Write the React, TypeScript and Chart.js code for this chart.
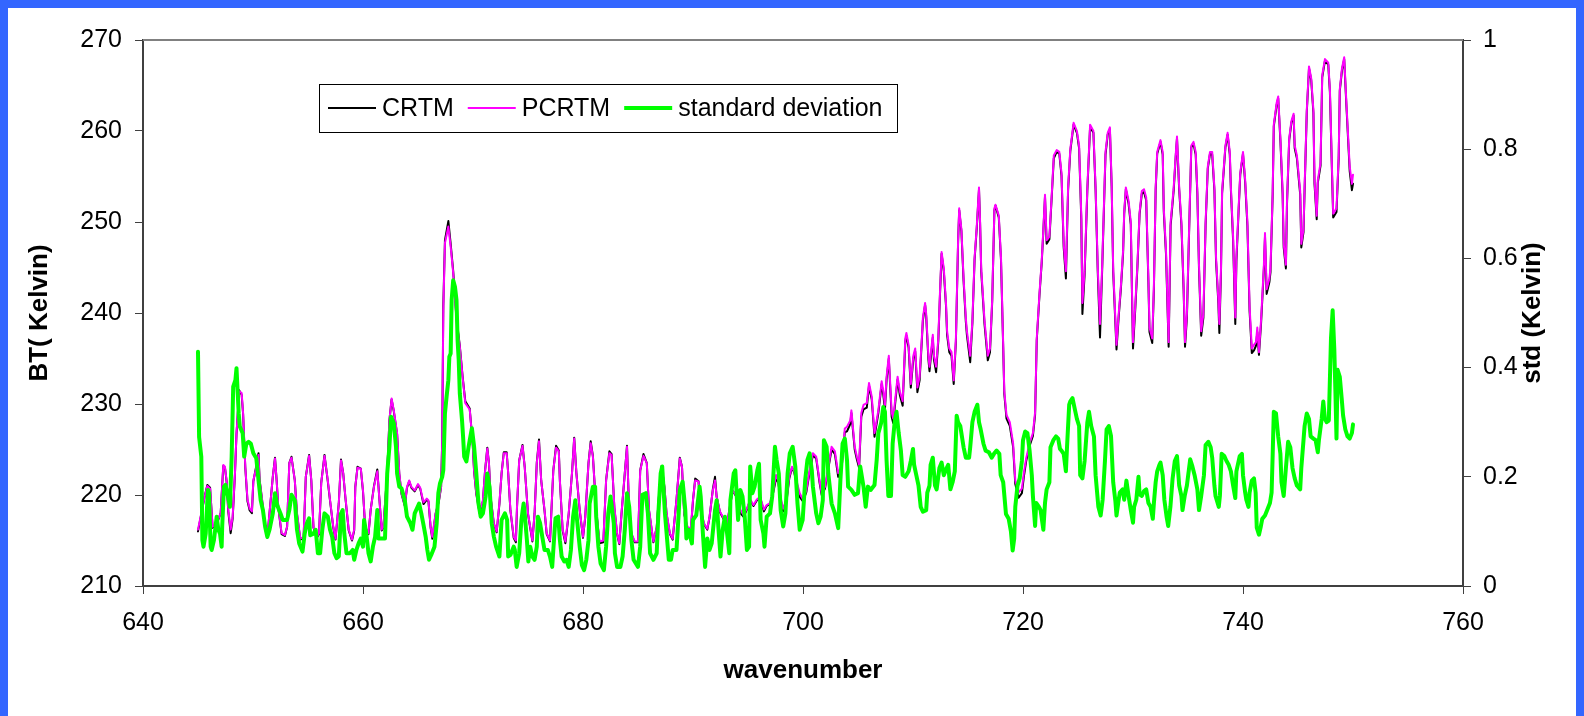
import React, { useEffect, useRef } from "react";
import { Chart, registerables } from "chart.js";

Chart.register(...registerables);

// ---------- data ----------
const btWavenumbers = [
  645.0, 645.6, 645.85, 646.1, 646.33, 646.7, 647.06, 647.3, 647.45, 647.6,
  647.75, 647.97, 648.15, 648.36, 648.5, 648.75, 648.97, 649.1, 649.3, 649.5,
  649.7, 649.9, 650.03, 650.24, 650.5, 650.6, 650.8, 651.1, 651.3, 651.5,
  651.8, 652.0, 652.15, 652.3, 652.6, 652.9, 653.1, 653.3, 653.5, 653.8,
  654.0, 654.3, 654.6, 654.8, 655.1, 655.3, 655.5, 655.8, 656.0, 656.2,
  656.5, 656.8, 657.0, 657.3, 657.5, 657.8, 658.0, 658.2, 658.4, 658.7,
  659.0, 659.2, 659.3, 659.5, 659.8, 660.0, 660.2, 660.5, 660.7, 661.0,
  661.3, 661.5, 661.7, 661.85, 662.2, 662.4, 662.6, 662.8, 663.1, 663.3,
  663.5, 663.8, 664.0, 664.2, 664.4, 664.7, 665.0, 665.2, 665.5, 665.8,
  665.95, 666.15, 666.3, 666.6, 666.9, 667.1, 667.2, 667.3, 667.45, 667.76,
  667.97, 668.2, 668.5, 668.8, 669.05, 669.3, 669.7, 669.97, 670.1, 670.3,
  670.6, 670.9, 671.1, 671.3, 671.45, 671.6, 671.9, 672.15, 672.4, 672.6,
  672.8, 673.06, 673.2, 673.4, 673.7, 673.9, 674.0, 674.2, 674.5, 674.7,
  675.0, 675.2, 675.4, 675.6, 675.8, 676.0, 676.2, 676.5, 676.7, 677.0,
  677.3, 677.55, 677.8, 677.9, 678.15, 678.4, 678.7, 679.0, 679.2, 679.4,
  679.7, 680.0, 680.2, 680.5, 680.7, 680.9, 681.2, 681.5, 681.85, 682.1,
  682.4, 682.6, 682.85, 683.1, 683.3, 683.5, 683.8, 684.0, 684.2, 684.4,
  684.7, 685.0, 685.2, 685.5, 685.8, 686.0, 686.4, 686.7, 686.9, 687.15,
  687.4, 687.6, 687.9, 688.15, 688.5, 688.8, 689.0, 689.2, 689.5, 689.8,
  690.0, 690.2, 690.5, 690.7, 691.0, 691.3, 691.5, 691.8, 692.0, 692.15,
  692.45, 692.8, 693.1, 693.3, 693.6, 693.9, 694.1, 694.3, 694.6, 694.9,
  695.2, 695.5, 695.8, 696.1, 696.45, 696.7, 697.0, 697.3, 697.55, 697.75,
  698.0, 698.2, 698.5, 698.75, 699.0, 699.2, 699.4, 699.7, 700.0, 700.3,
  700.6, 700.9, 701.2, 701.5, 701.7, 702.0, 702.3, 702.6, 702.9, 703.2,
  703.5, 703.8, 704.0, 704.3, 704.4, 704.7, 704.9, 705.1, 705.3, 705.5,
  705.8, 706.0, 706.25, 706.5, 706.85, 707.15, 707.3, 707.45, 707.6, 707.8,
  708.06, 708.2, 708.4, 708.6, 708.8, 709.06, 709.3, 709.4, 709.6, 709.8,
  710.03, 710.2, 710.4, 710.6, 710.8, 710.9, 711.1, 711.2, 711.4, 711.5,
  711.8, 711.9, 712.1, 712.3, 712.45, 712.6, 712.8, 713.0, 713.1, 713.3,
  713.5, 713.7, 713.9, 714.1, 714.2, 714.4, 714.6, 714.8, 714.9, 715.2,
  715.4, 715.6, 715.8, 716.0, 716.1, 716.2, 716.5, 716.8, 717.0, 717.2,
  717.4, 717.5, 717.8, 718.0, 718.2, 718.3, 718.5, 718.8, 719.1, 719.3,
  719.6, 719.9, 720.1, 720.3, 720.6, 720.9, 721.1, 721.25, 721.5, 721.7,
  721.85, 722.0, 722.15, 722.4, 722.6, 722.8, 723.06, 723.3, 723.5, 723.7,
  723.9, 724.1, 724.3, 724.6, 724.9, 725.1, 725.3, 725.4, 725.6, 725.85,
  726.1, 726.4, 726.6, 726.8, 727.0, 727.2, 727.5, 727.7, 727.9, 728.06,
  728.2, 728.4, 728.5, 728.7, 728.9, 729.1, 729.2, 729.35, 729.6, 729.8,
  729.9, 730.0, 730.2, 730.4, 730.6, 730.8, 731.0, 731.2, 731.4, 731.5,
  731.75, 731.9, 732.06, 732.2, 732.5, 732.7, 732.8, 733.0, 733.24, 733.42,
  733.7, 733.9, 734.0, 734.2, 734.4, 734.6, 734.73, 734.9, 735.1, 735.3,
  735.5, 735.7, 735.85, 736.0, 736.2, 736.4, 736.6, 736.8, 737.0, 737.2,
  737.4, 737.55, 737.76, 737.85, 738.0, 738.1, 738.4, 738.6, 738.8, 738.9,
  739.1, 739.3, 739.4, 739.6, 739.75, 740.0, 740.2, 740.4, 740.6, 740.8,
  741.0, 741.18, 741.3, 741.45, 741.64, 741.9, 742.0, 742.15, 742.4, 742.5,
  742.7, 742.8, 743.06, 743.2, 743.4, 743.6, 743.7, 743.9, 744.0, 744.2,
  744.4, 744.6, 744.7, 744.9, 745.2, 745.3, 745.5, 745.6, 745.8, 746.0,
  746.2, 746.4, 746.5, 746.7, 746.8, 747.05, 747.2, 747.45, 747.75, 747.9,
  748.1, 748.2, 748.5, 748.7, 748.8, 749.0, 749.2, 749.4, 749.6, 749.7,
  749.9, 750.0,
];

const pcrtmBT = [
  216.2, 219.8, 221.0, 220.7, 216.5, 216.9, 218.0, 223.3, 223.1, 221.6,
  218.4, 216.2, 217.6, 222.4, 226.8, 231.4, 231.2, 229.0, 223.1, 219.5,
  218.5, 218.2, 221.6, 222.7, 224.4, 221.6, 219.8, 216.5, 215.4, 218.0,
  222.0, 224.0, 221.6, 218.7, 215.8, 215.6, 216.5, 223.5, 224.1, 221.6,
  218.0, 215.2, 215.4, 222.0, 224.3, 221.6, 216.5, 215.4, 215.8, 221.3,
  224.3, 221.6, 219.5, 216.5, 215.2, 219.1, 223.8, 222.4, 219.8, 216.2,
  215.1, 216.2, 220.9, 223.0, 222.9, 220.5, 216.5, 215.8, 218.4, 220.9,
  222.6, 219.4, 216.2, 216.5, 222.4, 228.2, 230.6, 229.3, 226.8, 222.4,
  220.2, 218.9, 220.9, 221.6, 220.9, 220.5, 221.2, 220.8, 219.2, 219.6,
  219.4, 216.5, 215.4, 218.0, 219.4, 220.9, 225.7, 240.3, 247.7, 249.5,
  247.3, 244.4, 239.2, 236.3, 233.0, 230.1, 229.4, 225.7, 222.7, 220.2,
  218.2, 219.4, 222.7, 225.1, 223.5, 219.8, 216.9, 216.0, 219.1, 222.4,
  224.6, 224.6, 222.4, 218.4, 215.4, 215.0, 218.7, 223.8, 225.4, 223.1,
  218.0, 216.5, 215.0, 218.0, 223.5, 225.9, 221.6, 218.4, 215.8, 215.0,
  222.7, 225.2, 224.8, 221.6, 216.2, 214.9, 218.0, 222.4, 226.2, 222.4,
  218.4, 215.4, 217.6, 223.5, 225.7, 224.2, 218.4, 214.9, 215.0, 221.6,
  224.6, 224.4, 218.7, 215.8, 214.7, 218.0, 222.4, 225.3, 218.0, 215.8,
  214.9, 214.9, 222.7, 224.3, 223.5, 218.4, 214.9, 216.5, 219.8, 223.1,
  220.9, 218.0, 215.8, 215.2, 219.5, 224.0, 223.1, 218.0, 216.5, 216.3,
  219.5, 221.6, 221.5, 218.4, 216.9, 216.3, 217.6, 220.5, 221.6, 219.8,
  218.2, 217.4, 216.9, 218.4, 220.5, 220.0, 218.9, 218.4, 217.8, 218.5,
  219.5, 218.9, 219.5, 219.8, 218.4, 218.9, 219.1, 220.5, 222.2, 221.6,
  219.5, 218.5, 219.5, 222.0, 223.1, 222.6, 221.6, 220.2, 219.5, 220.5,
  222.7, 224.6, 224.2, 221.6, 220.2, 220.9, 223.1, 225.3, 224.8, 222.4,
  223.1, 227.3, 227.5, 228.2, 229.3, 225.3, 224.2, 223.3, 229.0, 229.9,
  230.1, 232.3, 230.8, 226.8, 229.3, 232.5, 231.4, 229.9, 233.0, 235.3,
  229.1, 228.4, 230.7, 233.0, 231.4, 230.3, 237.2, 237.8, 236.5, 232.2,
  235.3, 236.1, 231.8, 233.0, 237.2, 239.5, 241.1, 239.9, 235.3, 234.1,
  237.6, 235.3, 234.1, 237.2, 242.2, 246.7, 244.9, 241.1, 238.0, 236.1,
  235.7, 232.6, 237.2, 248.0, 251.5, 249.2, 243.8, 239.5, 238.0, 235.3,
  239.2, 246.1, 249.6, 253.8, 250.0, 244.9, 239.2, 235.3, 236.1, 241.5,
  251.5, 251.9, 250.7, 246.1, 236.5, 231.4, 228.8, 228.0, 225.7, 221.6,
  220.3, 220.7, 222.6, 224.1, 225.7, 226.8, 229.1, 237.2, 242.2, 245.7,
  249.2, 253.0, 248.0, 248.4, 252.7, 257.3, 257.9, 257.7, 255.4, 247.6,
  244.6, 253.8, 258.0, 260.9, 260.0, 258.4, 250.7, 241.1, 244.6, 253.8,
  260.7, 260.0, 253.8, 244.9, 238.8, 245.3, 257.7, 259.8, 260.4, 254.2,
  244.9, 239.2, 236.5, 239.9, 243.0, 246.9, 251.1, 253.8, 252.3, 250.0,
  243.0, 236.8, 240.7, 245.3, 251.1, 253.4, 253.6, 252.7, 243.8, 238.4,
  237.2, 243.0, 253.8, 257.7, 259.0, 257.7, 251.5, 246.9, 236.8, 250.0,
  253.8, 257.7, 259.4, 253.8, 250.0, 243.0, 236.8, 239.9, 249.2, 258.4,
  258.8, 257.7, 253.4, 245.3, 238.0, 239.9, 250.0, 256.1, 257.7, 257.7,
  253.8, 246.1, 241.5, 238.8, 244.9, 253.4, 258.4, 259.8, 257.7, 253.8,
  248.4, 239.5, 246.1, 251.5, 255.4, 257.7, 254.6, 250.0, 240.7, 236.1,
  236.5, 236.8, 238.4, 235.7, 239.2, 245.3, 248.8, 242.6, 243.8, 244.9,
  253.4, 260.7, 263.1, 263.8, 259.2, 253.4, 247.6, 245.3, 252.3, 259.2,
  261.1, 261.9, 258.4, 257.3, 253.4, 247.6, 249.2, 253.8, 262.3, 267.1,
  265.8, 262.3, 254.6, 250.7, 254.6, 256.5, 266.1, 267.9, 267.5, 264.6,
  255.4, 250.9, 251.5, 257.3, 264.6, 266.9, 268.1, 263.1, 258.4, 256.1,
  254.2, 255.2,
];

const crtmBT = [
  216.0, 219.8, 221.1, 220.8, 216.4, 216.8, 218.0, 223.2, 223.0, 221.5,
  218.2, 215.8, 217.4, 222.3, 226.7, 231.5, 231.0, 228.9, 223.0, 219.3,
  218.3, 218.0, 221.5, 222.8, 224.6, 221.7, 219.7, 216.4, 215.3, 218.0,
  222.0, 224.1, 221.6, 218.6, 215.7, 215.5, 216.5, 223.5, 224.2, 221.6,
  217.9, 215.1, 215.3, 222.0, 224.4, 221.6, 216.4, 215.3, 215.7, 221.3,
  224.4, 221.5, 219.4, 216.4, 215.1, 219.1, 223.9, 222.4, 219.7, 216.1,
  215.0, 216.1, 220.9, 223.1, 222.9, 220.4, 216.4, 215.7, 218.4, 221.0,
  222.8, 219.4, 216.1, 216.4, 222.4, 228.2, 230.5, 229.2, 226.7, 222.3,
  220.1, 218.8, 220.8, 221.5, 220.8, 220.4, 221.1, 220.7, 219.0, 219.5,
  219.3, 216.4, 215.2, 217.9, 219.3, 220.9, 225.9, 240.8, 248.0, 250.1,
  247.6, 244.6, 239.4, 236.4, 233.1, 230.3, 229.5, 225.7, 222.6, 220.1,
  218.0, 219.3, 222.7, 225.2, 223.5, 219.7, 216.8, 215.9, 219.0, 222.4,
  224.7, 224.7, 222.4, 218.3, 215.3, 214.8, 218.6, 223.8, 225.5, 223.1,
  217.9, 216.4, 214.9, 218.0, 223.6, 226.1, 221.6, 218.3, 215.7, 214.9,
  222.7, 225.4, 224.9, 221.5, 216.1, 214.7, 217.9, 222.4, 226.3, 222.4,
  218.3, 215.3, 217.5, 223.5, 225.9, 224.3, 218.3, 214.7, 214.8, 221.6,
  224.8, 224.5, 218.6, 215.7, 214.6, 217.9, 222.4, 225.4, 217.9, 215.7,
  214.8, 214.8, 222.7, 224.5, 223.5, 218.3, 214.8, 216.4, 219.8, 223.2,
  220.9, 217.9, 215.7, 215.1, 219.5, 224.1, 223.1, 217.9, 216.3, 216.1,
  219.4, 221.8, 221.5, 218.3, 216.8, 216.2, 217.5, 220.6, 222.0, 219.8,
  218.1, 217.3, 216.8, 218.3, 220.5, 219.9, 218.7, 218.0, 217.6, 218.4,
  219.4, 218.8, 219.4, 219.7, 218.2, 218.8, 219.0, 220.3, 221.8, 221.4,
  219.3, 218.2, 219.3, 221.8, 223.0, 222.5, 221.4, 219.8, 219.3, 220.3,
  222.5, 224.4, 224.0, 221.4, 220.0, 220.7, 222.9, 225.0, 224.5, 222.0,
  222.8, 226.9, 227.0, 227.8, 229.0, 225.0, 223.9, 223.0, 228.6, 229.4,
  229.6, 232.0, 230.5, 226.4, 229.0, 232.2, 231.0, 229.4, 232.7, 235.0,
  228.6, 227.9, 230.3, 232.7, 231.0, 229.8, 236.9, 237.5, 236.2, 231.8,
  235.0, 235.8, 231.3, 232.6, 236.9, 239.2, 240.9, 239.6, 234.9, 233.6,
  237.3, 234.9, 233.5, 236.9, 241.9, 246.5, 244.6, 240.8, 237.6, 235.7,
  235.3, 232.2, 236.9, 247.8, 251.3, 249.0, 243.5, 239.1, 237.6, 234.6,
  238.9, 245.9, 249.4, 253.6, 249.8, 244.6, 238.8, 234.8, 235.7, 241.2,
  251.3, 251.8, 250.5, 245.8, 236.2, 231.1, 228.4, 227.6, 225.3, 221.2,
  219.7, 220.2, 222.2, 223.8, 225.4, 226.5, 228.8, 237.0, 242.0, 245.5,
  249.0, 252.8, 247.6, 248.1, 252.5, 257.0, 257.7, 257.5, 255.1, 247.2,
  243.8, 253.5, 257.8, 260.7, 259.8, 258.1, 250.3, 239.9, 244.2, 253.5,
  260.5, 259.8, 253.5, 244.4, 237.3, 244.9, 257.4, 259.6, 260.2, 253.9,
  244.5, 238.8, 236.0, 239.6, 242.7, 246.6, 250.9, 253.6, 252.0, 249.7,
  242.6, 236.1, 240.3, 245.0, 250.9, 253.1, 253.3, 252.4, 243.4, 237.9,
  236.7, 242.6, 253.5, 257.5, 258.8, 257.4, 251.1, 246.5, 236.3, 249.6,
  253.5, 257.5, 259.2, 253.5, 249.7, 242.6, 236.3, 239.5, 248.9, 258.2,
  258.6, 257.4, 253.1, 244.9, 237.5, 239.5, 249.7, 255.9, 257.5, 257.4,
  253.5, 245.7, 241.1, 237.8, 244.5, 253.1, 258.2, 259.6, 257.4, 253.5,
  248.0, 238.8, 245.7, 251.2, 255.2, 257.5, 254.3, 249.6, 240.2, 235.6,
  235.9, 236.4, 237.9, 235.4, 238.8, 244.9, 248.4, 242.1, 243.4, 244.5,
  253.1, 260.5, 262.9, 263.6, 258.9, 253.1, 247.2, 244.9, 252.0, 259.0,
  260.9, 261.7, 258.1, 257.0, 253.0, 247.2, 248.9, 253.5, 262.1, 266.9,
  265.6, 262.0, 254.2, 250.3, 254.3, 256.2, 265.9, 267.7, 267.3, 264.3,
  255.0, 250.5, 251.1, 257.0, 264.4, 266.7, 267.9, 262.8, 258.0, 255.6,
  253.5, 254.2,
];

const stdWavenumbers = [
  645.0, 645.1, 645.3, 645.4, 645.5, 645.7, 645.9, 646.0, 646.15, 646.24,
  646.45, 646.7, 646.85, 647.0, 647.15, 647.2, 647.36, 647.5, 647.8, 647.9,
  648.06, 648.2, 648.4, 648.5, 648.7, 648.8, 649.06, 649.2, 649.4, 649.6,
  649.8, 650.03, 650.3, 650.5, 650.7, 650.9, 651.1, 651.3, 651.5, 651.8,
  652.0, 652.2, 652.5, 652.7, 653.1, 653.3, 653.5, 653.8, 654.0, 654.2,
  654.5, 654.7, 654.9, 655.1, 655.2, 655.5, 655.7, 655.9, 656.1, 656.3,
  656.5, 656.8, 657.0, 657.2, 657.4, 657.6, 657.8, 658.0, 658.15, 658.3,
  658.5, 658.8, 659.06, 659.2, 659.4, 659.6, 659.8, 660.0, 660.1, 660.3,
  660.5, 660.7, 660.9, 661.1, 661.3, 661.4, 661.7, 662.0, 662.2, 662.4,
  662.55, 662.8, 663.0, 663.1, 663.3, 663.5, 663.8, 664.0, 664.3, 664.5,
  664.7, 665.1, 665.3, 665.5, 665.7, 665.85, 666.0, 666.2, 666.5, 666.7,
  666.85, 667.0, 667.2, 667.3, 667.45, 667.6, 667.76, 667.85, 667.97, 668.06,
  668.2, 668.36, 668.5, 668.6, 668.7, 668.8, 669.0, 669.1, 669.2, 669.4,
  669.6, 669.7, 669.9, 670.1, 670.3, 670.5, 670.7, 670.9, 671.15, 671.3,
  671.5, 671.7, 671.9, 672.1, 672.4, 672.6, 672.9, 673.1, 673.2, 673.4,
  673.7, 673.8, 673.97, 674.2, 674.4, 674.6, 674.7, 674.9, 675.03, 675.2,
  675.4, 675.6, 675.8, 675.9, 676.1, 676.3, 676.5, 676.8, 677.0, 677.2,
  677.4, 677.5, 677.75, 677.9, 678.06, 678.3, 678.5, 678.7, 678.9, 679.1,
  679.3, 679.4, 679.7, 679.9, 680.1, 680.3, 680.5, 680.6, 680.9, 681.1,
  681.2, 681.4, 681.6, 681.9, 682.1, 682.3, 682.5, 682.8, 682.9, 683.1,
  683.4, 683.6, 683.8, 684.0, 684.2, 684.4, 684.6, 685.0, 685.2, 685.4,
  685.7, 685.9, 686.1, 686.4, 686.7, 686.85, 687.06, 687.2, 687.45, 687.8,
  688.0, 688.15, 688.5, 688.7, 688.8, 689.06, 689.3, 689.4, 689.6, 689.9,
  690.0, 690.3, 690.6, 690.7, 690.9, 691.1, 691.3, 691.5, 691.7, 692.0,
  692.15, 692.3, 692.5, 692.7, 692.9, 693.1, 693.3, 693.4, 693.7, 693.85,
  694.0, 694.1, 694.3, 694.5, 694.7, 694.9, 695.1, 695.2, 695.4, 695.6,
  695.85, 696.0, 696.15, 696.4, 696.5, 696.7, 697.0, 697.2, 697.45, 697.6,
  697.8, 697.97, 698.2, 698.4, 698.6, 698.8, 699.06, 699.3, 699.5, 699.7,
  699.97, 700.2, 700.4, 700.6, 700.8, 700.9, 701.2, 701.4, 701.6, 701.8,
  701.9, 702.15, 702.3, 702.6, 702.9, 703.2, 703.4, 703.6, 703.8, 704.0,
  704.1, 704.4, 704.7, 705.0, 705.2, 705.5, 705.7, 705.9, 706.15, 706.5,
  706.7, 706.85, 707.1, 707.3, 707.45, 707.6, 707.76, 708.0, 708.15, 708.36,
  708.5, 708.7, 708.9, 709.06, 709.3, 709.6, 709.8, 710.0, 710.1, 710.3,
  710.5, 710.7, 710.9, 711.2, 711.3, 711.5, 711.6, 711.8, 712.0, 712.15,
  712.4, 712.6, 712.8, 713.06, 713.2, 713.4, 713.6, 713.8, 713.97, 714.1,
  714.3, 714.4, 714.6, 714.8, 715.1, 715.2, 715.4, 715.6, 715.85, 716.0,
  716.15, 716.4, 716.6, 716.9, 717.15, 717.36, 717.6, 717.85, 717.97, 718.2,
  718.45, 718.7, 718.9, 719.06, 719.2, 719.3, 719.5, 719.7, 719.9, 720.0,
  720.2, 720.4, 720.6, 720.8, 720.9, 721.1, 721.2, 721.45, 721.6, 721.85,
  722.0, 722.15, 722.4, 722.5, 722.76, 723.0, 723.2, 723.36, 723.5, 723.7,
  723.9, 724.0, 724.2, 724.3, 724.5, 724.7, 724.9, 725.1, 725.2, 725.4,
  725.6, 725.85, 726.0, 726.2, 726.45, 726.6, 726.85, 727.06, 727.24, 727.45,
  727.6, 727.8, 728.0, 728.2, 728.4, 728.5, 728.7, 728.8, 729.06, 729.2,
  729.4, 729.6, 729.8, 730.0, 730.1, 730.3, 730.5, 730.6, 730.8, 731.0,
  731.2, 731.4, 731.6, 731.8, 731.9, 732.06, 732.2, 732.4, 732.5, 732.7,
  732.85, 733.06, 733.2, 733.4, 733.6, 733.8, 734.0, 734.2, 734.4, 734.5,
  734.7, 734.9, 735.1, 735.2, 735.4, 735.6, 735.85, 736.0, 736.2, 736.45,
  736.6, 736.85, 737.06, 737.2, 737.4, 737.5, 737.8, 737.9, 738.06, 738.3,
  738.5, 738.7, 738.9, 739.1, 739.3, 739.4, 739.7, 739.9, 740.0, 740.2,
  740.3, 740.5, 740.6, 740.8, 741.0, 741.15, 741.25, 741.45, 741.6, 741.75,
  742.0, 742.2, 742.45, 742.6, 742.7, 742.8, 743.0, 743.2, 743.4, 743.5,
  743.7, 743.9, 744.1, 744.3, 744.5, 744.7, 744.9, 745.2, 745.3, 745.5,
  745.6, 745.8, 746.0, 746.15, 746.4, 746.6, 746.8, 746.9, 747.15, 747.3,
  747.45, 747.6, 747.8, 748.0, 748.15, 748.3, 748.4, 748.5, 748.6, 748.8,
  748.97, 749.1, 749.3, 749.5, 749.7, 749.9, 750.0,
];

const stdValues = [
  0.429, 0.273, 0.237, 0.084, 0.072, 0.096, 0.176, 0.17, 0.072, 0.066,
  0.084, 0.127, 0.103, 0.096, 0.072, 0.109, 0.182, 0.185, 0.157, 0.145,
  0.237, 0.365, 0.377, 0.399, 0.316, 0.292, 0.28, 0.237, 0.261, 0.264,
  0.261, 0.243, 0.234, 0.194, 0.157, 0.139, 0.109, 0.09, 0.103, 0.133,
  0.17, 0.148, 0.133, 0.121, 0.121, 0.139, 0.167, 0.157, 0.103, 0.078,
  0.063, 0.096, 0.115, 0.124, 0.093, 0.096, 0.103, 0.06, 0.06, 0.103,
  0.133, 0.127, 0.103, 0.09, 0.06, 0.051, 0.054, 0.133, 0.139, 0.096,
  0.06, 0.06, 0.066, 0.048, 0.066, 0.078, 0.087, 0.072, 0.121, 0.096,
  0.06, 0.045, 0.072, 0.09, 0.139, 0.087, 0.087, 0.087, 0.206, 0.255,
  0.31, 0.298, 0.255, 0.206, 0.182, 0.179, 0.157, 0.127, 0.115, 0.103,
  0.133, 0.151, 0.133, 0.112, 0.09, 0.066, 0.048, 0.057, 0.072, 0.115,
  0.17, 0.188, 0.2, 0.212, 0.316, 0.347, 0.377, 0.42, 0.426, 0.524,
  0.56, 0.548, 0.524, 0.45, 0.414, 0.353, 0.304, 0.273, 0.237, 0.228,
  0.255, 0.267, 0.289, 0.255, 0.206, 0.151, 0.127, 0.133, 0.164, 0.206,
  0.182, 0.115, 0.09, 0.072, 0.054, 0.121, 0.133, 0.121, 0.054, 0.057,
  0.072, 0.066, 0.035, 0.06, 0.121, 0.151, 0.133, 0.084, 0.045, 0.072,
  0.054, 0.048, 0.072, 0.127, 0.115, 0.09, 0.066, 0.066, 0.054, 0.035,
  0.096, 0.124, 0.127, 0.084, 0.054, 0.045, 0.048, 0.035, 0.066, 0.127,
  0.157, 0.133, 0.072, 0.038, 0.029, 0.048, 0.084, 0.151, 0.182, 0.182,
  0.127, 0.072, 0.041, 0.029, 0.072, 0.133, 0.164, 0.115, 0.06, 0.035,
  0.035, 0.054, 0.103, 0.17, 0.145, 0.084, 0.048, 0.035, 0.072, 0.167,
  0.17, 0.133, 0.06, 0.048, 0.06, 0.133, 0.206, 0.219, 0.133, 0.048,
  0.048, 0.066, 0.066, 0.133, 0.176, 0.191, 0.139, 0.087, 0.103, 0.078,
  0.121, 0.13, 0.182, 0.164, 0.096, 0.035, 0.087, 0.066, 0.078, 0.139,
  0.157, 0.109, 0.054, 0.103, 0.127, 0.096, 0.06, 0.157, 0.206, 0.212,
  0.157, 0.121, 0.176, 0.164, 0.127, 0.066, 0.072, 0.219, 0.17, 0.182,
  0.212, 0.224, 0.121, 0.096, 0.072, 0.127, 0.133, 0.164, 0.255, 0.231,
  0.206, 0.139, 0.109, 0.133, 0.206, 0.243, 0.255, 0.219, 0.151, 0.103,
  0.121, 0.194, 0.231, 0.243, 0.212, 0.182, 0.133, 0.115, 0.127, 0.157,
  0.267, 0.255, 0.206, 0.151, 0.133, 0.106, 0.194, 0.261, 0.27, 0.231,
  0.182, 0.176, 0.167, 0.17, 0.219, 0.182, 0.145, 0.182, 0.176, 0.185,
  0.231, 0.28, 0.298, 0.328, 0.319, 0.229, 0.165, 0.165, 0.261, 0.306,
  0.319, 0.28, 0.248, 0.203, 0.2, 0.21, 0.229, 0.251, 0.222, 0.203,
  0.184, 0.145, 0.136, 0.139, 0.171, 0.184, 0.222, 0.235, 0.184, 0.177,
  0.216, 0.226, 0.203, 0.216, 0.222, 0.177, 0.19, 0.21, 0.312, 0.3,
  0.293, 0.28, 0.254, 0.235, 0.235, 0.254, 0.3, 0.319, 0.332, 0.3,
  0.287, 0.261, 0.248, 0.245, 0.235, 0.242, 0.248, 0.242, 0.203, 0.19,
  0.132, 0.123, 0.1, 0.065, 0.087, 0.145, 0.184, 0.197, 0.229, 0.267,
  0.283, 0.28, 0.248, 0.203, 0.165, 0.11, 0.152, 0.145, 0.139, 0.103,
  0.152, 0.177, 0.19, 0.254, 0.267, 0.274, 0.27, 0.251, 0.248, 0.242,
  0.21, 0.254, 0.332, 0.338, 0.344, 0.325, 0.306, 0.293, 0.203, 0.197,
  0.229, 0.3, 0.319, 0.293, 0.274, 0.203, 0.145, 0.129, 0.158, 0.229,
  0.287, 0.293, 0.275, 0.19, 0.155, 0.129, 0.158, 0.171, 0.177, 0.158,
  0.193, 0.165, 0.139, 0.116, 0.145, 0.158, 0.2, 0.168, 0.165, 0.174,
  0.177, 0.152, 0.145, 0.123, 0.152, 0.19, 0.21, 0.222, 0.226, 0.203,
  0.158, 0.126, 0.11, 0.145, 0.197, 0.229, 0.238, 0.184, 0.165, 0.139,
  0.165, 0.184, 0.216, 0.232, 0.219, 0.203, 0.177, 0.139, 0.165, 0.203,
  0.258, 0.264, 0.254, 0.235, 0.184, 0.165, 0.145, 0.165, 0.242, 0.238,
  0.229, 0.222, 0.21, 0.184, 0.161, 0.21, 0.238, 0.242, 0.203, 0.171,
  0.158, 0.145, 0.171, 0.193, 0.197, 0.171, 0.107, 0.094, 0.107, 0.123,
  0.129, 0.139, 0.152, 0.171, 0.242, 0.319, 0.316, 0.274, 0.242, 0.19,
  0.165, 0.216, 0.264, 0.254, 0.216, 0.197, 0.184, 0.177, 0.216, 0.267,
  0.293, 0.316, 0.306, 0.274, 0.27, 0.267, 0.245, 0.267, 0.306, 0.338,
  0.306, 0.3, 0.303, 0.454, 0.505, 0.434, 0.357, 0.27, 0.396, 0.383,
  0.344, 0.312, 0.287, 0.274, 0.27, 0.28, 0.296,
];

const seriesLabels = ["CRTM", "PCRTM", "standard deviation"];
const seriesColors = ["#000000", "#ff00ff", "#00ff00"];
const seriesWidths = [2, 2, 4];

const FONT = '"Liberation Sans", Arial, Helvetica, sans-serif';

function toPoints(xs: number[], ys: number[]) {
  const n = Math.min(xs.length, ys.length);
  const out: { x: number; y: number }[] = [];
  for (let i = 0; i < n; i++) out.push({ x: xs[i], y: ys[i] });
  return out;
}

export default function App() {
  const canvasRef = useRef<HTMLCanvasElement | null>(null);

  useEffect(() => {
    document.body.style.background = "#3366ff";
    document.body.style.margin = "8px";
    document.body.style.overflow = "hidden";
    document.documentElement.style.overflow = "hidden";
    const canvas = canvasRef.current;
    if (!canvas) return;

    const overlayPlugin = {
      id: "overlay",
      afterDraw(chart: any) {
        const ctx = chart.ctx as CanvasRenderingContext2D;
        const area = chart.chartArea;
        ctx.save();
        // top frame line of plot area
        ctx.strokeStyle = "#808080";
        ctx.lineWidth = 2;
        ctx.beginPath();
        ctx.moveTo(area.left, area.top);
        ctx.lineTo(area.right, area.top);
        ctx.stroke();

        // legend box
        const bx = 311, by = 76, bw = 578, bh = 48;
        ctx.fillStyle = "#ffffff";
        ctx.fillRect(bx, by, bw, bh);
        ctx.strokeStyle = "#000000";
        ctx.lineWidth = 1;
        ctx.strokeRect(bx + 0.5, by + 0.5, bw, bh);
        ctx.font = `25px ${FONT}`;
        ctx.textBaseline = "middle";
        ctx.textAlign = "left";
        const cy = by + bh / 2;
        let x = 320;
        for (let i = 0; i < seriesLabels.length; i++) {
          ctx.strokeStyle = seriesColors[i];
          ctx.lineWidth = seriesWidths[i];
          ctx.beginPath();
          ctx.moveTo(x, cy);
          ctx.lineTo(x + 48, cy);
          ctx.stroke();
          ctx.fillStyle = "#000000";
          ctx.fillText(seriesLabels[i], x + 54, cy + 1);
          x += 54 + ctx.measureText(seriesLabels[i]).width + 14;
        }

        // right axis title (reads bottom to top)
        ctx.translate(1525, (area.top + area.bottom) / 2);
        ctx.rotate(-Math.PI / 2);
        ctx.font = `bold 26px ${FONT}`;
        ctx.textAlign = "center";
        ctx.textBaseline = "middle";
        ctx.fillStyle = "#000000";
        ctx.fillText("std (Kelvin)", 0, 0);
        ctx.restore();
      },
    };

    const axisColor = "#404040";
    const tickFont = { family: FONT, size: 25 };

    const chart = new Chart(canvas, {
      type: "line",
      data: {
        datasets: [
          {
            label: seriesLabels[2],
            data: toPoints(stdWavenumbers, stdValues),
            yAxisID: "y1",
            borderColor: seriesColors[2],
            backgroundColor: seriesColors[2],
            borderWidth: seriesWidths[2],
            pointRadius: 0,
            order: 0,
          },
          {
            label: seriesLabels[1],
            data: toPoints(btWavenumbers, pcrtmBT),
            yAxisID: "y",
            borderColor: seriesColors[1],
            backgroundColor: seriesColors[1],
            borderWidth: seriesWidths[1],
            pointRadius: 0,
            order: 1,
          },
          {
            label: seriesLabels[0],
            data: toPoints(btWavenumbers, crtmBT),
            yAxisID: "y",
            borderColor: seriesColors[0],
            backgroundColor: seriesColors[0],
            borderWidth: seriesWidths[0],
            pointRadius: 0,
            order: 2,
          },
        ],
      },
      options: {
        responsive: false,
        animation: false,
        events: [],
        layout: { padding: { top: 32, left: 0, right: 0, bottom: 0 } },
        elements: { line: { tension: 0, borderJoinStyle: "round", borderCapStyle: "round" } },
        plugins: { legend: { display: false }, tooltip: { enabled: false } },
        scales: {
          x: {
            type: "linear",
            min: 640,
            max: 760,
            ticks: { stepSize: 20, color: "#000", font: tickFont, padding: 14, maxRotation: 0, autoSkip: false },
            grid: { drawOnChartArea: false, drawTicks: true, tickLength: 8, color: axisColor, lineWidth: 1 },
            border: { display: true, color: axisColor, width: 2 },
            title: {
              display: true,
              text: "wavenumber",
              color: "#000",
              font: { family: FONT, size: 26, weight: "bold" },
              padding: { top: 0, bottom: 30 },
            },
            afterFit(scale: any) {
              scale.height = 130;
            },
          },
          y: {
            type: "linear",
            position: "left",
            min: 210,
            max: 270,
            ticks: { stepSize: 10, color: "#000", font: tickFont, padding: 13 },
            grid: { drawOnChartArea: false, drawTicks: true, tickLength: 8, color: axisColor, lineWidth: 1 },
            border: { display: true, color: axisColor, width: 2 },
            title: {
              display: true,
              text: "BT( Kelvin)",
              color: "#000",
              font: { family: FONT, size: 26, weight: "bold" },
              padding: { top: 16, bottom: 0 },
            },
            afterFit(scale: any) {
              scale.width = 135;
            },
          },
          y1: {
            type: "linear",
            position: "right",
            min: 0,
            max: 1,
            ticks: {
              stepSize: 0.2,
              color: "#000",
              font: tickFont,
              padding: 12,
              callback: (v: any) => String(Math.round(Number(v) * 10) / 10),
            },
            grid: { drawOnChartArea: false, drawTicks: true, tickLength: 8, color: axisColor, lineWidth: 1 },
            border: { display: true, color: axisColor, width: 2 },
            afterFit(scale: any) {
              scale.width = 113;
            },
          },
        },
      },
      plugins: [overlayPlugin],
    } as any);

    return () => chart.destroy();
  }, []);

  return (
    <canvas
      ref={canvasRef}
      width={1568}
      height={708}
      style={{ display: "block", background: "#ffffff", width: "1568px", height: "708px" }}
    />
  );
}
